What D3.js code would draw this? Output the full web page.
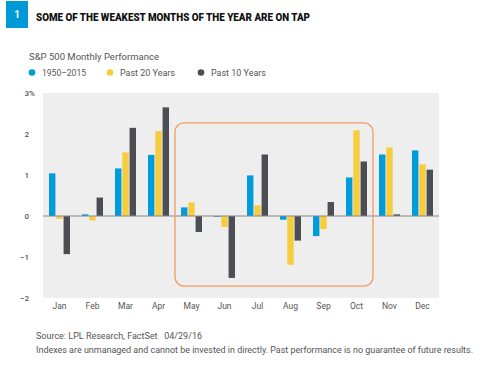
<!DOCTYPE html>
<html>
<head>
<meta charset="utf-8">
<script src="https://cdn.jsdelivr.net/npm/d3@7"></script>
<style>
  body { margin: 0; background: #fff; }
  text { font-family: Roboto, "Liberation Sans", sans-serif; }
</style>
</head>
<body>
<div id="chart"></div>
<script>
var months = ["Jan", "Feb", "Mar", "Apr", "May", "Jun", "Jul", "Aug", "Sep", "Oct", "Nov", "Dec"];
var seriesNames = ["1950\u20132015", "Past 20 Years", "Past 10 Years"];
var allYears = [1.04, 0.04, 1.16, 1.49, 0.21, -0.02, 0.99, -0.09, -0.49, 0.94, 1.50, 1.60];
var past20 = [-0.07, -0.11, 1.55, 2.07, 0.33, -0.27, 0.26, -1.19, -0.32, 2.09, 1.67, 1.26];
var past10 = [-0.93, 0.45, 2.15, 2.65, -0.39, -1.51, 1.50, -0.60, 0.34, 1.33, 0.04, 1.13];
var yTicks = [-2, -1, 0, 1, 2, 3];
var highlight = ["May", "Oct"];

var colors = ["#009bdb", "#f6cd3c", "#4b4e53"];

var svgWidth = 480;
var svgHeight = 365;
var margin = { top: 93, right: 41, bottom: 67, left: 43 };
var width = svgWidth - margin.left - margin.right;
var height = svgHeight - margin.top - margin.bottom;

var svg = d3.select("#chart")
  .append("svg")
  .attr("width", svgWidth)
  .attr("height", svgHeight);

// header
svg.append("rect")
  .attr("x", 6).attr("y", 1)
  .attr("width", 22).attr("height", 27)
  .attr("fill", "#0099d8");
svg.append("text")
  .attr("x", 17).attr("y", 18)
  .attr("text-anchor", "middle")
  .attr("fill", "#fff")
  .style("font-size", "10px")
  .style("font-weight", "bold")
  .text("1");
svg.append("text")
  .attr("x", 36).attr("y", 21)
  .attr("textLength", 274)
  .attr("lengthAdjust", "spacingAndGlyphs")
  .attr("fill", "#111")
  .style("font-size", "10.5px")
  .style("font-weight", "900")
  .text("SOME OF THE WEAKEST MONTHS OF THE YEAR ARE ON TAP");

svg.append("text")
  .attr("x", 29).attr("y", 60)
  .attr("textLength", 130)
  .attr("lengthAdjust", "spacingAndGlyphs")
  .attr("fill", "#555")
  .style("font-size", "9.5px")
  .text("S&P 500 Monthly Performance");

// legend
var legendX = [32, 110, 201];
var legendW = [44, 55, 55];
var legend = svg.append("g");
seriesNames.forEach(function(name, i) {
  legend.append("circle")
    .attr("cx", legendX[i]).attr("cy", 72.5)
    .attr("r", 3.3)
    .attr("fill", colors[i]);
  legend.append("text")
    .attr("x", legendX[i] + 10).attr("y", 76)
    .attr("textLength", legendW[i])
    .attr("lengthAdjust", "spacingAndGlyphs")
    .attr("fill", "#555")
    .style("font-size", "9.5px")
    .text(name);
});

var chartGroup = svg.append("g")
  .attr("transform", `translate(${margin.left}, ${margin.top})`);

var xScale = d3.scaleBand().domain(months).range([0, width]);
var xInner = d3.scaleBand().domain(d3.range(3)).range([0, 21]).paddingInner(0.12);
var yScale = d3.scaleLinear().domain([-2, 3]).range([height, 0]);

chartGroup.append("rect")
  .attr("width", width)
  .attr("height", height)
  .attr("fill", "#eeeeee");

// y axis
var yAxis = d3.axisLeft(yScale)
  .tickValues(yTicks)
  .tickSize(0)
  .tickPadding(14)
  .tickFormat(d3.format("d"));
var yg = chartGroup.append("g").call(yAxis);
yg.select(".domain").remove();
yg.selectAll("text")
  .attr("fill", "#555")
  .style("font-size", "8px")
  .style("font-weight", "500")
  .style("font-family", "Roboto, sans-serif");
chartGroup.append("text")
  .attr("x", -14).attr("y", yScale(3))
  .attr("dy", "0.32em")
  .attr("fill", "#555")
  .style("font-size", "8px")
  .style("font-weight", "500")
  .text("%");

// x axis labels
var xAxis = d3.axisBottom(xScale).tickSize(0).tickPadding(5);
var xg = chartGroup.append("g")
  .attr("transform", `translate(0, ${height})`)
  .call(xAxis);
xg.select(".domain").remove();
xg.selectAll("text")
  .attr("fill", "#555")
  .style("font-size", "8.5px")
  .style("font-family", "Roboto, sans-serif");

// bars
var rows = months.map(function(m, i) {
  return { month: m, values: [allYears[i], past20[i], past10[i]] };
});
var groups = chartGroup.selectAll(".month")
  .data(rows).enter()
  .append("g")
  .attr("class", "month")
  .attr("transform", (d) => `translate(${xScale(d.month) + (xScale.bandwidth() - 21) / 2}, 0)`);

groups.selectAll("rect")
  .data((d) => d.values.map((v, j) => ({ v: v, j: j })))
  .enter()
  .append("rect")
  .attr("x", (d) => xInner(d.j))
  .attr("width", xInner.bandwidth())
  .attr("y", (d) => yScale(Math.max(0, d.v)))
  .attr("height", (d) => Math.abs(yScale(d.v) - yScale(0)))
  .attr("fill", (d) => colors[d.j]);

// zero line
chartGroup.append("line")
  .attr("x1", 0).attr("x2", width)
  .attr("y1", yScale(0)).attr("y2", yScale(0))
  .attr("stroke", "#888")
  .attr("stroke-width", 1);

// highlight box May-Oct
chartGroup.append("rect")
  .attr("x", xScale(highlight[0]))
  .attr("y", yScale(2.27))
  .attr("width", xScale(highlight[1]) + xScale.bandwidth() - xScale(highlight[0]))
  .attr("height", yScale(-1.71) - yScale(2.27))
  .attr("rx", 9)
  .attr("fill", "none")
  .attr("stroke", "#f49a63")
  .attr("stroke-width", 1.3);

// footer
svg.append("text")
  .attr("x", 36).attr("y", 339)
  .attr("textLength", 166)
  .attr("lengthAdjust", "spacingAndGlyphs")
  .attr("fill", "#555")
  .style("font-size", "8.5px")
  .attr("xml:space", "preserve")
  .text("Source: LPL Research, FactSet   04/29/16");
svg.append("text")
  .attr("x", 36).attr("y", 353)
  .attr("textLength", 437)
  .attr("lengthAdjust", "spacingAndGlyphs")
  .attr("fill", "#555")
  .style("font-size", "8.5px")
  .text("Indexes are unmanaged and cannot be invested in directly. Past performance is no guarantee of future results.");
</script>
</body>
</html>
